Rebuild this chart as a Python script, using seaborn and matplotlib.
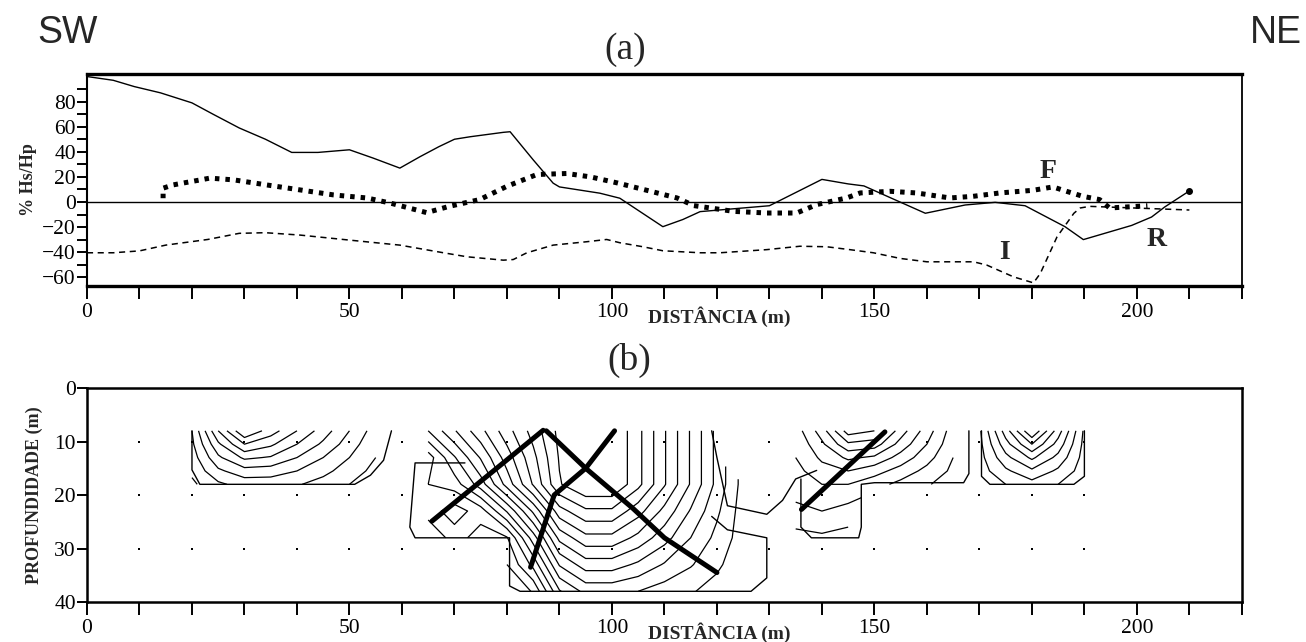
import numpy as np
import matplotlib
matplotlib.use("Agg")
import matplotlib.pyplot as plt
import seaborn as sns

# ---- (a) % Hs/Hp profiles ----
r_x = [0, 5, 9, 14, 20, 24, 29, 34, 39, 44, 50, 54.5, 59.6, 63.4, 67, 70, 73, 79.3, 80.6,
       85, 88.8, 90, 97.7, 101.5, 109.7, 113.5, 116.8, 130, 140, 145, 148, 154, 159.7,
       167.3, 173, 178.7, 186.3, 189.8, 199, 202.8, 205.3, 210]
r_y = [100, 97, 92, 87, 79, 70, 59, 50, 39.5, 39.5, 41.6, 35, 27, 36, 44, 50, 52, 55.5, 56,
       33.6, 15, 12, 7, 3, -19.7, -14, -7.7, -3, 18, 14.4, 12.8, 1.6, -9,
       -2.4, -0.3, -3, -19.7, -30, -18.7, -12, -4, 8.8]

f_x = [14.5, 14.5, 16.4, 23.4, 28, 34.2, 40.6, 47, 53.3, 57.7, 64.7, 69, 74.8, 80, 85.7,
       91.4, 95.9, 101, 107.4, 112.4, 115.6, 123.2, 129.5, 135.2, 139, 144.7, 147.3, 153,
       158, 164.4, 168.8, 173.9, 180.2, 184, 186.6, 189.7, 192.9, 194.8, 202]
f_y = [3, 11, 13.6, 19, 17.6, 13.6, 9.6, 5.6, 3.2, -0.8, -8.5, -3.5, 1.9, 12.5, 21.9,
       22.7, 20, 15.2, 8.5, 3.2, -2.9, -7.5, -8.8, -8.8, -2.1, 3.2, 7.2, 8.5,
       7.2, 3.2, 4.5, 7.2, 9.3, 12, 8.5, 4.5, 1.9, -4.8, -3]

i_x = [0, 5, 10, 15, 23, 29, 34, 40.6, 50, 59.6, 67.9, 72.4, 79.3, 81.2, 83.8, 88.8, 95.2,
       99, 101.5, 105.9, 109.7, 116.8, 120.6, 129.5, 135.8, 140.9, 145.3, 149.8, 154.9,
       160, 168.9, 171.4, 176.5, 180.3, 181.6, 184.8, 188, 189.2, 191, 210]
i_y = [-40.5, -40.5, -39, -34.4, -29.9, -25, -24.5, -26.4, -30.4, -34.4, -40.5, -43.7,
       -46.4, -45.9, -40.5, -34.4, -31.7, -29.9, -32.5, -35.7, -38.9, -40.5, -40.5, -38,
       -35.3, -35.7, -38, -40.5, -45, -47.7, -47.7, -50.3, -59.7, -64.5, -57, -27.7, -9,
       -4.8, -3.5, -6.4]

# ---- (b) pseudo-section grids (current density, arbitrary units) ----
nan = np.nan
r1_x = [20, 25, 30, 35, 40, 45, 50, 55]
r1_d = [8, 10.5, 13, 15.5, 18]
r1_z = [[2.0, 6.0, 9.0, 7.5, 6.0, 4.5, 3.0, 1.5],
        [1.8, 4.8, 7.0, 6.2, 5.0, 3.8, 2.5, 1.2],
        [1.5, 3.8, 5.2, 4.9, 4.0, 3.0, 2.0, 1.0],
        [1.2, 2.8, 3.6, 3.5, 3.0, 2.3, 1.5, 0.7],
        [0.8, 1.8, 2.4, 2.4, 2.1, 1.6, 1.0, 0.5]]

r2_x = [65, 70, 75, 80, 85, 90, 95, 100, 105, 110, 115, 120, 125, 130]
r2_d = [8, 13, 18, 23, 28, 33, 38]
r2_z = [[10.0, 8.1, 6.3, 4.4, 2.6, 0.7, 0.0, 0.0, 1.7, 3.9, 6.1, 8.3, nan, nan],
        [12.5, 10.1, 7.9, 5.5, 3.3, 0.9, 0.0, 0.0, 1.7, 3.9, 6.1, 8.3, nan, nan],
        [12.0, 11.5, 9.5, 6.6, 3.9, 1.1, 0.0, 0.0, 1.7, 3.9, 6.1, 8.3, 10.4, nan],
        [12.5, 13.5, 12.5, 9.9, 6.8, 3.4, 2.2, 2.2, 3.6, 5.3, 7.1, 8.8, 10.5, nan],
        [11.0, 12.5, 13.5, 13.1, 9.5, 5.7, 4.3, 4.3, 5.3, 6.6, 8.0, 9.3, 10.5, nan],
        [nan, nan, nan, 14.0, 11.7, 7.9, 6.5, 6.5, 7.2, 8.1, 8.9, 9.8, 10.7, nan],
        [nan, nan, nan, 15.0, 13.9, 10.1, 8.7, 8.7, 9.0, 9.5, 9.9, 10.4, 10.8, nan]]

r3_x = [135, 140, 145, 150, 155, 160, 165]
r3_d = [8, 10.5, 13, 15.5, 18, 23, 28]
r3_z = [[3.5, 5.5, 8.5, 8.0, 5.5, 3.5, 1.5],
        [3.2, 4.8, 6.8, 6.5, 4.6, 3.0, 1.3],
        [3.0, 4.2, 5.2, 4.8, 3.6, 2.4, 1.0],
        [2.7, 3.6, 4.0, 3.4, 2.6, 1.7, 0.8],
        [2.4, 3.0, 3.0, 2.4, 1.7, 1.1, 0.5],
        [1.8, 2.0, 1.6, nan, nan, nan, nan],
        [0.6, 0.8, 0.6, nan, nan, nan, nan]]

r4_x = [170, 175, 180, 185, 190]
r4_d = [8, 10.5, 13, 15.5, 18]
r4_z = [[0.8, 4.5, 8.0, 4.5, 0.8],
        [0.7, 3.6, 6.0, 3.6, 0.7],
        [0.6, 2.7, 4.2, 2.7, 0.6],
        [0.5, 1.8, 2.8, 1.8, 0.5],
        [0.3, 1.0, 1.6, 1.0, 0.3]]

# blanking outlines
o1_x = [20, 20, 21.5, 51, 54, 56.5, 58]
o1_d = [8, 15.3, 18, 18, 16.3, 13.5, 8]
o2_x = [72, 62.5, 61.5, 62.5, 80.5, 80.5, 82.5, 126.5, 129.5, 129.5, 122, 119]
o2_d = [14, 14, 26, 28, 28, 37, 38, 38, 35.5, 28, 26.5, 24]
o2b_x = [119, 120, 122, 129.5, 132.5, 135, 139]
o2b_d = [8, 13, 22, 23.6, 21, 17, 15.4]
o3_x = [136, 136, 138, 147, 147.5, 147.5, 150, 167, 168, 168]
o3_d = [17, 26, 28, 28, 26, 18, 17.7, 17.7, 16, 8]
o4_x = [170.4, 170.4, 172, 188, 190, 190]
o4_d = [8, 16.5, 18, 18, 16.5, 8]

# interpreted structures (thick lines)
sA_x, sA_d = [65.7, 86.9], [24.9, 7.9]
sB_x, sB_d = [87.5, 95, 104, 110, 120], [8, 15, 22.5, 28, 34.5]
sC_x, sC_d = [84.5, 89, 95, 100.5], [33.5, 20, 15, 8]
sD_x, sD_d = [136.1, 152], [22.7, 8.2]

# data points of the section
pt_x = list(range(10, 200, 10))
pt_d = [10, 20, 30]

sns.set_style("ticks")
plt.rcParams["font.family"] = ["Liberation Serif", "DejaVu Serif"]

fig = plt.figure(figsize=(13.06, 6.42), dpi=100)
ax1 = fig.add_axes([0.0666, 0.5545, 0.8843, 0.3302])
ax2 = fig.add_axes([0.0666, 0.0623, 0.8843, 0.3333])

# panel (a)
ax1.axhline(0, color="black", lw=1.0)
sns.lineplot(x=r_x, y=r_y, ax=ax1, sort=False, estimator=None, color="black", lw=1.0)
ax1.plot(r_x[-1], r_y[-1], "o", color="black", ms=4)
sns.lineplot(x=i_x, y=i_y, ax=ax1, sort=False, estimator=None, color="black", lw=1.1,
             linestyle=(0, (4, 3)))
sns.lineplot(x=f_x, y=f_y, ax=ax1, sort=False, estimator=None, color="black", lw=3.6,
             linestyle=(0, (0.9, 1.2)))
ax1.text(183, 24, "F", fontsize=20, fontweight="bold", ha="center", va="center")
ax1.text(174.7, -40, "I", fontsize=20, fontweight="bold", ha="center", va="center")
ax1.text(203.8, -29.6, "R", fontsize=20, fontweight="bold", ha="center", va="center")

ax1.set_xlim(0, 220)
ax1.set_ylim(-67, 102)
ax1.set_yticks([-60, -40, -20, 0, 20, 40, 60, 80])
ax1.set_yticks(np.arange(-60, 100, 10), minor=True)
ax1.set_ylabel("% Hs/Hp", fontsize=13, fontweight="bold", labelpad=4)

# panel (b)
for gx, gd, gz in [(r1_x, r1_d, r1_z), (r2_x, r2_d, r2_z), (r3_x, r3_d, r3_z), (r4_x, r4_d, r4_z)]:
    ax2.contour(gx, gd, np.ma.masked_invalid(np.array(gz)), levels=np.arange(1, 17),
                colors="black", linewidths=0.9)
for ox, od in [(o1_x, o1_d), (o2_x, o2_d), (o2b_x, o2b_d), (o3_x, o3_d), (o4_x, o4_d)]:
    ax2.plot(ox, od, color="black", lw=1.0)
for sx, sd in [(sA_x, sA_d), (sB_x, sB_d), (sC_x, sC_d), (sD_x, sD_d)]:
    sns.lineplot(x=sx, y=sd, ax=ax2, sort=False, estimator=None, color="black", lw=3.6)
gx, gd = np.meshgrid(pt_x, pt_d)
sns.scatterplot(x=gx.ravel(), y=gd.ravel(), ax=ax2, color="black", s=3, marker="s",
                linewidth=0)

ax2.set_xlim(0, 220)
ax2.set_ylim(40, 0)
ax2.set_yticks([0, 10, 20, 30, 40])
ax2.set_ylabel("PROFUNDIDADE (m)", fontsize=13, fontweight="bold", labelpad=8)

for ax, y_lab in [(ax1, -0.145), (ax2, -0.145)]:
    ax.set_xticks([0, 50, 100, 150, 200])
    ax.set_xticks(np.arange(0, 221, 10), minor=True)
    ax.tick_params(which="both", direction="out", length=9, width=1.4, labelsize=15.5, pad=3,
                   color="black", labelcolor="black")
    ax.tick_params(axis="y", which="both", length=7, pad=1)
    ax.text(106.9, y_lab, "DISTÂNCIA (m)", transform=ax.get_xaxis_transform(),
            fontsize=14, fontweight="bold", ha="left", va="center")
    for s in ax.spines.values():
        s.set_color("black")
        s.set_linewidth(1.8)
    ax.set_xlabel("")
ax1.spines["top"].set_linewidth(2.4)
ax1.spines["bottom"].set_linewidth(2.4)
ax1.spines["right"].set_linewidth(1.3)
ax1.spines["left"].set_linewidth(1.5)

fig.text(0.052, 0.949, "SW", fontsize=27, family="Liberation Sans", ha="center", va="center")
fig.text(0.977, 0.949, "NE", fontsize=27, family="Liberation Sans", ha="center", va="center")
fig.text(0.479, 0.922, "(a)", fontsize=27, ha="center", va="center")
fig.text(0.482, 0.439, "(b)", fontsize=27, ha="center", va="center")

fig.savefig("out.png", dpi=100)
